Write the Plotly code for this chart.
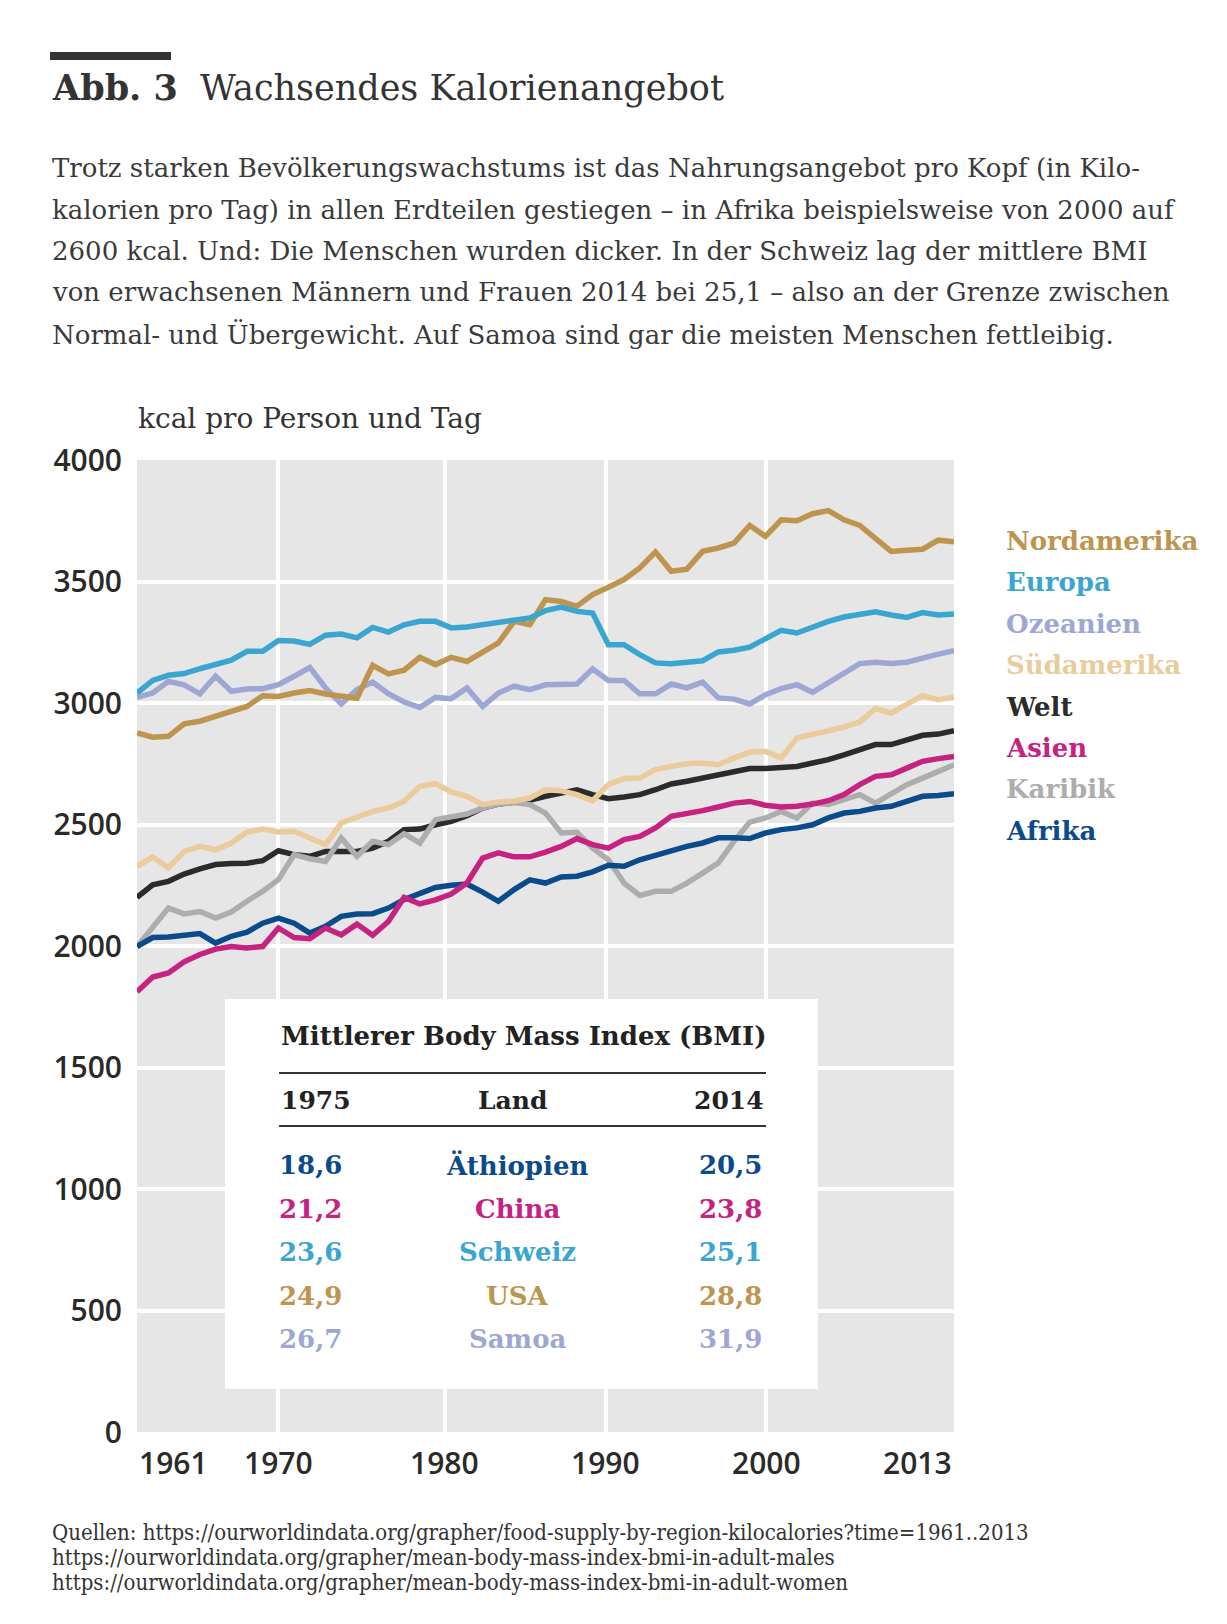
import plotly.graph_objects as go

# Nahrungsangebot in kcal pro Person und Tag, 1961-2013
years = list(range(1961, 2014))

nordamerika = [2877, 2859, 2863, 2914, 2925, 2945, 2966, 2986, 3030,
               3027, 3041, 3051, 3037, 3027, 3020, 3155, 3120, 3135, 3188,
               3158, 3188, 3171, 3206, 3247, 3336, 3322, 3425, 3418, 3398,
               3446, 3476, 3508, 3556, 3621, 3542, 3551, 3624, 3638, 3658,
               3731, 3686, 3754, 3750, 3779, 3792, 3754, 3731, 3679, 3624,
               3629, 3633, 3670, 3663]
europa = [3041, 3093, 3114, 3121, 3141, 3158, 3176, 3213, 3213,
          3257, 3255, 3241, 3279, 3284, 3268, 3311, 3292, 3322, 3336,
          3336, 3309, 3313, 3322, 3332, 3344, 3350, 3380, 3395, 3377,
          3370, 3240, 3240, 3199, 3165, 3162, 3167, 3174, 3210, 3217,
          3230, 3267, 3299, 3288, 3315, 3336, 3354, 3364, 3375, 3362,
          3352, 3372, 3362, 3366]
ozeanien = [3023, 3041, 3089, 3075, 3038, 3110, 3048, 3058, 3059,
            3075, 3110, 3147, 3062, 2996, 3055, 3086, 3038, 3004, 2982,
            3023, 3018, 3062, 2986, 3041, 3069, 3055, 3075, 3075, 3078,
            3141, 3093, 3093, 3038, 3038, 3078, 3062, 3086, 3021, 3016,
            2996, 3034, 3059, 3075, 3044, 3082, 3123, 3162, 3168, 3163,
            3168, 3186, 3201, 3215]
suedamerika = [2328, 2366, 2321, 2389, 2410, 2396, 2424, 2469, 2481,
               2469, 2472, 2444, 2417, 2506, 2529, 2554, 2568, 2595, 2657,
               2668, 2634, 2616, 2582, 2593, 2597, 2609, 2643, 2639, 2623,
               2598, 2664, 2689, 2691, 2726, 2739, 2750, 2753, 2746, 2774,
               2798, 2801, 2774, 2856, 2872, 2883, 2901, 2922, 2977, 2959,
               2996, 3030, 3014, 3025]
welt = [2200, 2252, 2266, 2296, 2317, 2335, 2339, 2341, 2351,
        2392, 2376, 2369, 2389, 2389, 2389, 2403, 2431, 2479, 2481,
        2499, 2513, 2536, 2568, 2584, 2591, 2600, 2616, 2627, 2643,
        2623, 2606, 2613, 2623, 2643, 2667, 2678, 2691, 2705, 2719,
        2730, 2730, 2733, 2739, 2753, 2767, 2787, 2808, 2829, 2829,
        2849, 2867, 2872, 2886]
asien = [1812, 1872, 1889, 1935, 1965, 1987, 1998, 1992, 1998,
         2074, 2035, 2030, 2074, 2046, 2090, 2044, 2101, 2200, 2173,
         2190, 2214, 2259, 2362, 2383, 2367, 2367, 2386, 2410, 2442,
         2417, 2403, 2438, 2451, 2486, 2534, 2543, 2557, 2572, 2588,
         2595, 2579, 2572, 2575, 2584, 2598, 2623, 2664, 2698, 2705,
         2732, 2760, 2771, 2780]
karibik = [1998, 2081, 2156, 2132, 2142, 2115, 2140, 2184, 2225,
           2273, 2376, 2359, 2348, 2444, 2369, 2431, 2417, 2462, 2424,
           2520, 2534, 2543, 2568, 2584, 2590, 2582, 2547, 2465, 2468,
           2403, 2355, 2259, 2208, 2225, 2225, 2259, 2300, 2342, 2431,
           2510, 2527, 2554, 2527, 2588, 2582, 2602, 2623, 2588, 2623,
           2664, 2691, 2719, 2746]
afrika = [1998, 2035, 2037, 2046, 2051, 2012, 2040, 2057, 2094,
          2115, 2094, 2053, 2081, 2122, 2132, 2133, 2156, 2191, 2218,
          2241, 2250, 2255, 2222, 2184, 2232, 2272, 2259, 2284, 2287,
          2305, 2332, 2328, 2355, 2373, 2394, 2410, 2424, 2445, 2445,
          2442, 2465, 2479, 2486, 2499, 2527, 2547, 2554, 2568, 2575,
          2595, 2616, 2619, 2627]

# legend order (top to bottom)
legend_names = ["Nordamerika", "Europa", "Ozeanien", "Südamerika",
                "Welt", "Asien", "Karibik", "Afrika"]
series = {"Nordamerika": nordamerika, "Europa": europa, "Ozeanien": ozeanien,
          "Südamerika": suedamerika, "Welt": welt, "Asien": asien,
          "Karibik": karibik, "Afrika": afrika}
colors = {"Nordamerika": "#BE954F", "Europa": "#3AA6CF", "Ozeanien": "#9EA7D3",
          "Südamerika": "#EACB9C", "Welt": "#2B2B2B", "Asien": "#C62280",
          "Karibik": "#ADADAD", "Afrika": "#0B4A8B"}
draw_order = ["Welt", "Karibik", "Afrika", "Asien", "Südamerika",
              "Ozeanien", "Nordamerika", "Europa"]

# BMI table
bmi_header = ["1975", "Land", "2014"]
bmi_countries = ["Äthiopien", "China", "Schweiz", "USA", "Samoa"]
bmi_1975 = ["18,6", "21,2", "23,6", "24,9", "26,7"]
bmi_2014 = ["20,5", "23,8", "25,1", "28,8", "31,9"]
bmi_regions = ["Afrika", "Asien", "Europa", "Nordamerika", "Ozeanien"]

y_ticks = [0, 500, 1000, 1500, 2000, 2500, 3000, 3500, 4000]
# grid lines sit where the original drew them
x_grid = [1970.0, 1980.6, 1990.85, 2001.05]
x_labels = ["1970", "1980", "1990", "2000"]

intro = [
    "Trotz starken Bevölkerungswachstums ist das Nahrungsangebot pro Kopf (in Kilo-",
    "kalorien pro Tag) in allen Erdteilen gestiegen – in Afrika beispielsweise von 2000 auf",
    "2600 kcal. Und: Die Menschen wurden dicker. In der Schweiz lag der mittlere BMI",
    "von erwachsenen Männern und Frauen 2014 bei 25,1 – also an der Grenze zwischen",
    "Normal- und Übergewicht. Auf Samoa sind gar die meisten Menschen fettleibig.",
]
sources = [
    "Quellen: https://ourworldindata.org/grapher/food-supply-by-region-kilocalories?time=1961..2013",
    "https://ourworldindata.org/grapher/mean-body-mass-index-bmi-in-adult-males",
    "https://ourworldindata.org/grapher/mean-body-mass-index-bmi-in-adult-women",
]

W, H = 1227, 1624
L, R, T, B = 129, 946, 452, 1424
SERIF = "DejaVu Serif"
SANS = "Open Sans"
DARK = "#2A2A2A"


def px_x(px):
    return (px - L) / (R - L)


def px_y(py):
    return (B - py) / (B - T)


fig = go.Figure()
for name in draw_order:
    fig.add_trace(go.Scatter(x=years, y=series[name], mode="lines", name=name,
                             line=dict(color=colors[name], width=5.5),
                             showlegend=False, hoverinfo="x+y+name"))

ann = []
# headline and intro text
ann.append(dict(x=px_x(42), y=px_y(79), xanchor="left", yanchor="middle",
                text="<b>Abb. 3</b>  Wachsendes Kalorienangebot",
                font=dict(family=SERIF, size=35, color="#333")))
for i, line in enumerate(intro):
    ann.append(dict(x=px_x(42), y=px_y(160 + i * 41.5), xanchor="left", yanchor="middle",
                    text=line, font=dict(family=SERIF, size=26, color="#3A3A3A")))
ann.append(dict(x=px_x(128), y=px_y(410), xanchor="left", yanchor="middle",
                text="kcal pro Person und Tag", font=dict(family=SERIF, size=28, color="#333")))

# x labels
tick_font = dict(family=SANS, size=30, color=DARK, weight=600)
for xv, lab in zip(x_grid, x_labels):
    ann.append(dict(x=xv, xref="x", y=px_y(1454), xanchor="center", yanchor="middle",
                    text=lab, font=tick_font))
ann.append(dict(x=years[0], xref="x", y=px_y(1454), xanchor="left", yanchor="middle",
                text=str(years[0]), font=tick_font))
ann.append(dict(x=years[-1], xref="x", y=px_y(1454), xanchor="right", yanchor="middle",
                text=str(years[-1]), font=tick_font))

# legend labels
for i, name in enumerate(legend_names):
    ann.append(dict(x=px_x(996), y=px_y(533 + i * 41.4), xanchor="left", yanchor="middle",
                    text="<b>" + name + "</b>",
                    font=dict(family=SERIF, size=26, color=colors[name])))

# BMI table
ann.append(dict(x=px_x(271), y=px_y(1028), xanchor="left", yanchor="middle",
                text="<b>Mittlerer Body Mass Index (BMI)</b>",
                font=dict(family=SERIF, size=26, color="#222")))
hdr_font = dict(family=SERIF, size=25, color="#222")
ann.append(dict(x=px_x(271), y=px_y(1092), xanchor="left", yanchor="middle",
                text="<b>" + bmi_header[0] + "</b>", font=hdr_font))
ann.append(dict(x=px_x(504), y=px_y(1092), xanchor="center", yanchor="middle",
                text="<b>" + bmi_header[1] + "</b>", font=hdr_font))
ann.append(dict(x=px_x(758), y=px_y(1092), xanchor="right", yanchor="middle",
                text="<b>" + bmi_header[2] + "</b>", font=hdr_font))
for i, (c, a, b, reg) in enumerate(zip(bmi_countries, bmi_1975, bmi_2014, bmi_regions)):
    yy = px_y(1157 + i * 43.5)
    f = dict(family=SERIF, size=26, color=colors[reg])
    ann.append(dict(x=px_x(269), y=yy, xanchor="left", yanchor="middle",
                    text="<b>" + a + "</b>", font=f))
    ann.append(dict(x=px_x(509), y=yy, xanchor="center", yanchor="middle",
                    text="<b>" + c + "</b>", font=f))
    ann.append(dict(x=px_x(756), y=yy, xanchor="right", yanchor="middle",
                    text="<b>" + b + "</b>", font=f))

# sources
for i, line in enumerate(sources):
    ann.append(dict(x=px_x(42), y=px_y(1524 + i * 25), xanchor="left", yanchor="middle",
                    text=line, font=dict(family="DejaVu Serif Condensed, Liberation Serif",
                                         size=22, color="#333")))

for a in ann:
    a.setdefault("xref", "paper")
    a["yref"] = "paper"
    a["showarrow"] = False

shapes = [
    dict(type="rect", xref="paper", yref="paper", x0=px_x(42), x1=px_x(163),
         y0=px_y(52), y1=px_y(44), fillcolor="#333", line=dict(width=0)),
    dict(type="rect", xref="paper", yref="paper", x0=px_x(217), x1=px_x(810),
         y0=px_y(1381), y1=px_y(991), fillcolor="white", line=dict(width=0), layer="above"),
    dict(type="line", xref="paper", yref="paper", x0=px_x(271), x1=px_x(758),
         y0=px_y(1065), y1=px_y(1065), line=dict(color="#333", width=2), layer="above"),
    dict(type="line", xref="paper", yref="paper", x0=px_x(271), x1=px_x(758),
         y0=px_y(1118), y1=px_y(1118), line=dict(color="#333", width=2), layer="above"),
]

fig.update_layout(
    width=W, height=H, autosize=False,
    margin=dict(l=L, r=W - R, t=T, b=H - B, pad=0),
    paper_bgcolor="white", plot_bgcolor="#E6E6E6",
    annotations=ann, shapes=shapes,
    hovermode="closest",
)
fig.update_xaxes(range=[years[0], years[-1]], tickvals=x_grid, showticklabels=False,
                 showgrid=True, gridcolor="white", gridwidth=3.5, zeroline=False,
                 showline=False, ticks="")
fig.update_yaxes(range=[0, 4000], tickvals=y_ticks, showgrid=True, gridcolor="white",
                 gridwidth=3.5, zeroline=False, showline=False, ticks="",
                 ticklabelstandoff=14, tickfont=tick_font)

fig.write_html("out.html")
